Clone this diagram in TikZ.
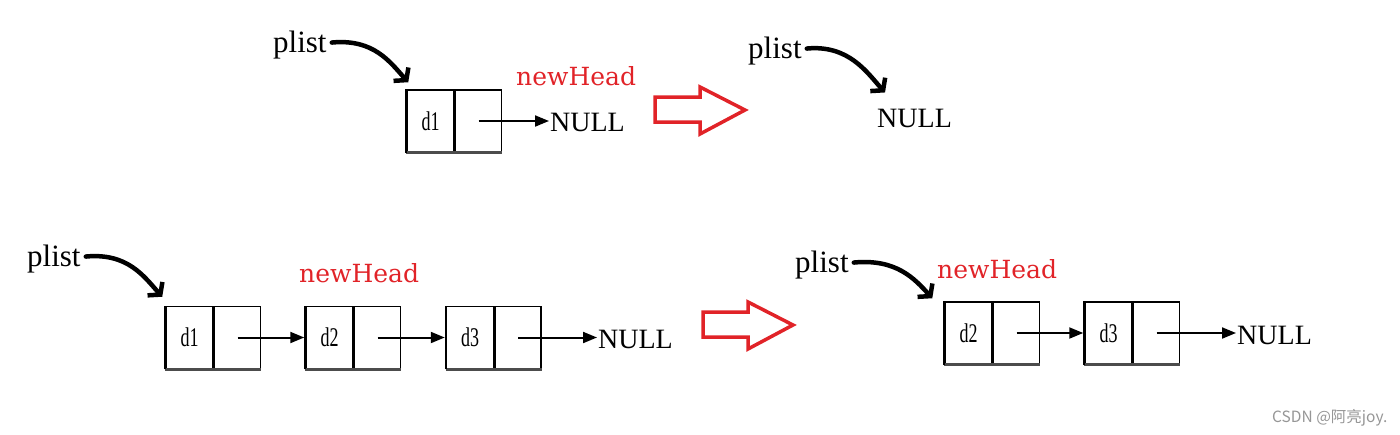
\documentclass[tikz,border=0pt]{standalone}
\usepackage{fontspec}
\setmainfont{Liberation Serif}
\newfontfamily\dvs{DejaVu Serif}
\newfontfamily\cjk{Noto Sans CJK SC}
\usetikzlibrary{arrows.meta,positioning}
\definecolor{hred}{RGB}{225,35,40}
\definecolor{wm}{RGB}{150,150,150}
\newcommand{\dtext}[1]{\scalebox{1.0}[1.5]{#1}}
\begin{document}
\begin{tikzpicture}[x=1pt,y=-1pt,
  datacell/.style={draw=black, line width=1.5pt, minimum width=47pt, minimum height=62pt, inner sep=0pt, font=\fontsize{18}{18}\selectfont},
  ptrcell/.style={draw=black, line width=1.5pt, minimum width=46pt, minimum height=62pt, inner sep=0pt},
  lbl/.style={anchor=base west, inner sep=0pt, font=\fontsize{28}{28}\selectfont},
  plistlbl/.style={anchor=base west, inner sep=0pt, font=\fontsize{31}{31}\selectfont},
  headlbl/.style={anchor=base west, inner sep=0pt, text=hred, font=\dvs\fontsize{25}{25}\selectfont},
  curvy/.style={line width=4.5pt, line cap=round, -{Straight Barb[length=8pt,width=20pt]}},
  link/.style={line width=2pt, shorten >=1pt, -{Triangle[length=14pt,width=11pt]}},
  bottomedge/.style={line width=2.6pt, black!70},
  leftedge/.style={line width=2.4pt, black},
  bigarrow/.style={draw=hred, line width=3.5pt, line join=miter, fill=white}]
\useasboundingbox (0,0) rectangle (1400,434);

% ---------- top left ----------
\node[plistlbl] (pl1) at (273,52) {plist};
\node[datacell] (a1) at (430.5,121) {\dtext{d1}};
\node[ptrcell, right=0pt of a1] (p1) {};
\draw[bottomedge] (a1.south west) -- (p1.south east);
\draw[leftedge] (a1.south west) -- (a1.north west);
\node[headlbl] (h1) at (516,85) {newHead};
\node[lbl] (n1) at (550,131) {NULL};
\draw[curvy] ([xshift=5pt,yshift=2pt]pl1.east) .. controls +(42,-4) and +(-18,-20) .. ([xshift=2pt,yshift=7pt]a1.north west);
\draw[link] (p1.center) -- (p1.center -| n1.west);

% red arrow top
\draw[bigarrow] (655,97) -- (700,97) -- (700,87) -- (745,110) -- (700,134) -- (700,122) -- (655,122) -- cycle;

% ---------- top right ----------
\node[plistlbl] (pl2) at (748,58) {plist};
\node[lbl] (n2) at (877,127) {NULL};
\draw[curvy] ([xshift=5pt,yshift=2pt]pl2.east) .. controls +(42,-4) and +(-18,-20) .. ([xshift=8pt,yshift=16pt]n2.north west);

% ---------- bottom left ----------
\node[plistlbl] (pl3) at (27,266) {plist};
\node[datacell] (b1) at (189.5,337.5) {\dtext{d1}};
\node[ptrcell, right=0pt of b1] (q1) {};
\node[datacell] (b2) at (329.5,337.5) {\dtext{d2}};
\node[ptrcell, right=0pt of b2] (q2) {};
\node[datacell] (b3) at (470,337.5) {\dtext{d3}};
\node[ptrcell, right=0pt of b3] (q3) {};
\draw[bottomedge] (b1.south west) -- (q1.south east);
\draw[bottomedge] (b2.south west) -- (q2.south east);
\draw[bottomedge] (b3.south west) -- (q3.south east);
\draw[leftedge] (b1.south west) -- (b1.north west);
\draw[leftedge] (b2.south west) -- (b2.north west);
\draw[leftedge] (b3.south west) -- (b3.north west);
\node[headlbl] (h3) at (299,282) {newHead};
\node[lbl] (n3) at (598,348) {NULL};
\draw[curvy] ([xshift=5pt,yshift=2pt]pl3.east) .. controls +(42,-4) and +(-18,-20) .. ([xshift=-3pt,yshift=9pt]b1.north west);
\draw[link] (q1.center) -- (b2.west);
\draw[link] (q2.center) -- (b3.west);
\draw[link] (q3.center) -- (q3.center -| n3.west);

% red arrow bottom
\begin{scope}[shift={(48,215)}]
\draw[bigarrow] (655,97) -- (700,97) -- (700,87) -- (745,110) -- (700,134) -- (700,122) -- (655,122) -- cycle;
\end{scope}

% ---------- bottom right ----------
\node[plistlbl] (pl4) at (795,272) {plist};
\node[datacell] (c2) at (968.5,333) {\dtext{d2}};
\node[ptrcell, right=0pt of c2] (r2) {};
\node[datacell] (c3) at (1108.5,333) {\dtext{d3}};
\node[ptrcell, right=0pt of c3] (r3) {};
\draw[bottomedge] (c2.south west) -- (r2.south east);
\draw[bottomedge] (c3.south west) -- (r3.south east);
\draw[leftedge] (c2.south west) -- (c2.north west);
\draw[leftedge] (c3.south west) -- (c3.north west);
\node[headlbl] (h4) at (937,278) {newHead};
\node[lbl] (n4) at (1237,344) {NULL};
\draw[curvy] ([xshift=5pt,yshift=2pt]pl4.east) .. controls +(42,-4) and +(-18,-20) .. ([xshift=-12pt,yshift=3pt]c2.north west);
\draw[link] (r2.center) -- (c3.west);
\draw[link] (r3.center) -- (r3.center -| n4.west);

% watermark
\node[anchor=base west, inner sep=0pt, text=wm, font=\cjk\fontsize{15.5}{15.5}\selectfont] (wmk) at (1272,422) {CSDN @阿亮joy.};
\end{tikzpicture}
\end{document}
